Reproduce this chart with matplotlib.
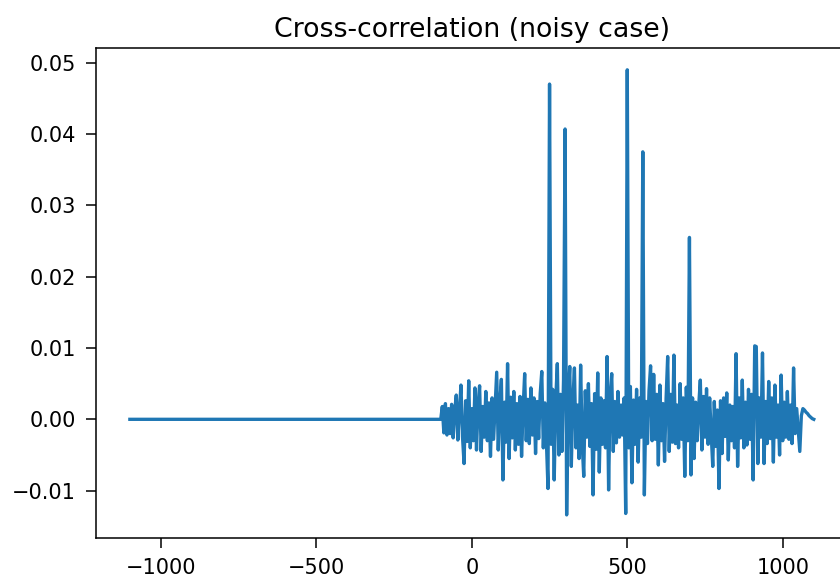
import numpy as np
import matplotlib
matplotlib.use("Agg")
import matplotlib.pyplot as plt

# lags go from -1100 to 1100 in steps of 5
lag_step = 5
lag_min = -1100
lag_max = 1100

# flat part before the noise starts (-1100 .. -105)
flat_values = [0.0] * 200

# noisy part, lags -100 .. 1055, values in units of 1e-3
noise_values = [
    0.0, 1.8, -1.9, 2.2, -2.2, 1.5, -2.0, 2.1, -2.6, 1.2,
    3.4, -2.9, 1.2, 4.8, -2.4, -6.2, 2.6, -3.1, 5.4, -4.0,
    1.5, -3.0, 4.4, -4.3, 2.0, 4.7, -4.5, 1.8, -2.5, 3.9,
    -3.0, 2.3, -5.2, 3.0, -2.8, 1.9, 6.6, -4.3, 2.2, 5.6,
    -8.5, 2.4, -3.2, 7.8, -5.5, 3.1, -2.6, 3.9, -4.3, 2.2,
    -3.5, 3.2, -5.2, 1.5, 6.4, -3.0, 2.8, -3.4, 4.4, -2.2,
    3.0, -4.8, 2.5, -2.7, 3.6, 6.7, -4.0, 2.3, -3.2, -9.7,
    47.0, -3.5, 4.2, -8.5, 2.8, 7.8, -5.0, 3.5, -4.5, 5.5,
    40.7, -13.4, 3.0, 7.4, -6.6, 2.5, 7.2, -4.0, 2.0, -5.5,
    7.6, -3.4, -8.0, 4.0, -2.5, 5.0, -3.8, 2.2, -10.6, 3.6,
    -4.2, 6.5, -7.4, 3.0, -3.5, 2.6, -4.0, 8.8, -9.9, 3.4,
    6.4, -4.5, 2.5, -3.3, 3.9, -2.5, 2.0, -2.2, 3.0, -13.2,
    49.0, -4.0, 4.6, -8.9, 2.7, -3.5, 4.2, -6.0, 3.0, -2.5,
    37.5, -10.6, 2.5, -3.4, 4.0, 7.5, -3.0, 6.3, -2.8, 3.5,
    -6.4, 4.8, -3.0, 2.2, -5.9, 3.0, 8.8, -4.5, 3.5, -3.2,
    9.0, -3.4, 2.0, -4.0, 5.0, -2.8, 3.0, -8.0, 4.5, -3.0,
    25.5, -7.8, 3.0, -5.5, 2.4, -3.0, 2.0, 5.5, -4.3, 3.2,
    -2.5, 4.3, -3.5, 3.0, -2.0, -6.6, 2.5, -3.8, 1.3, -9.7,
    2.6, -4.8, 3.0, -2.4, 3.7, -5.7, 2.0, -3.0, 1.8, -4.0,
    9.2, -6.6, 3.0, -2.6, 5.5, -4.0, 2.4, -3.6, 4.2, -2.8,
    3.5, -8.5, 10.3, 10.2, -6.2, 3.0, -2.5, 9.3, -6.2, 2.5,
    -3.4, 5.3, -2.7, 3.0, -6.0, 4.8, -2.5, 2.0, -5.0, 6.2,
    -3.0, 2.4, -2.5, 3.9, -2.8, 2.0, -3.4, 7.2, -2.0, 1.5, -1.5, -4.5,
]

# small bump at the end, lags 1060 .. 1100, units of 1e-3
tail_values = [0.5, 1.5, 1.3, 1.0, 0.8, 0.5, 0.3, 0.1, 0.0]

lags = np.arange(lag_min, lag_max + 1, lag_step)
corr = np.array(flat_values + [v * 1e-3 for v in noise_values] + [v * 1e-3 for v in tail_values])

fig = plt.figure(figsize=(8.4, 5.79), dpi=100)
# the axes run a bit past the right edge of the picture
ax = fig.add_axes([0.1139, 0.0713, 0.8956, 0.8463])
ax.plot(lags, corr, color="#1f77b4", linewidth=2.4)
ax.set_xlim(-1210, 1210)
ax.set_ylim(-0.0166, 0.0521)
ax.set_xticks([-1000, -500, 0, 500, 1000])
ax.set_yticks([-0.01, 0.0, 0.01, 0.02, 0.03, 0.04, 0.05])
ax.tick_params(labelsize=15, length=7.3, width=1.1, pad=7)
for s in ax.spines.values():
    s.set_linewidth(1.1)
ax.set_title("Cross-correlation (noisy case)", fontsize=19.3, pad=8)

fig.savefig("out.png", dpi=100)
